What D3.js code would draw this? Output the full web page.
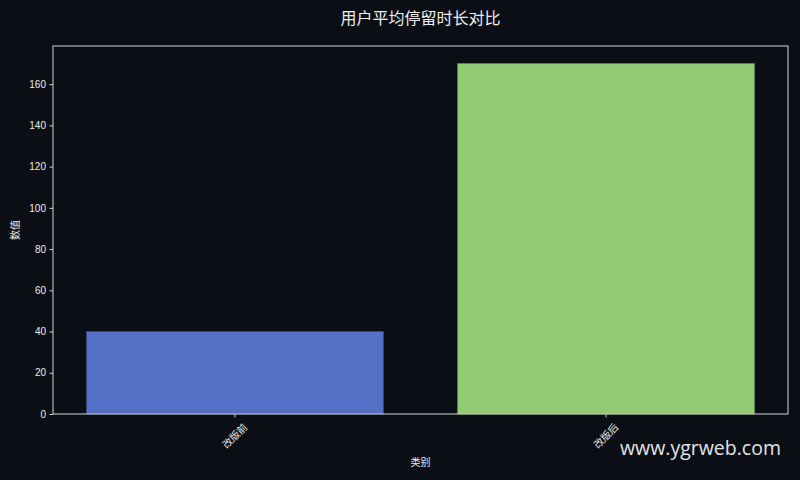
<!DOCTYPE html>
<html>
<head>
<meta charset="utf-8">
<script src="https://cdn.jsdelivr.net/npm/d3@7"></script>
<style>
  body { margin: 0; background: #0b0e14; }
  svg { display: block; }
  .tick text { font-family: "Liberation Sans", "Noto Sans CJK SC", sans-serif; font-size: 10px; fill: #ececec; }
  .labelText { font-family: "Liberation Sans", "Noto Sans CJK SC", sans-serif; font-size: 10px; fill: #ececec; }
</style>
</head>
<body>
<svg id="chart" width="800" height="480"></svg>
<script>
const categories = ['改版前', '改版后'];
const values = [40, 170];
const barColors = ['#5470c6', '#91cc75'];
const yTicks = [0, 20, 40, 60, 80, 100, 120, 140, 160];

const width = 800;
const height = 480;
const margin = { top: 46, right: 12, bottom: 66, left: 53 };
const innerW = width - margin.left - margin.right;
const innerH = height - margin.top - margin.bottom;

const svg = d3.select('#chart');

svg.append('rect')
  .attr('width', width)
  .attr('height', height)
  .attr('fill', '#0b0e14');

const x = d3.scaleBand()
  .domain(categories)
  .range([0, innerW])
  .paddingInner(0.2)
  .paddingOuter(0.09);

const y = d3.scaleLinear()
  .domain([0, d3.max(values) * 1.05])
  .range([innerH, 0]);

const g = svg.append('g')
  .attr('transform', `translate(${margin.left}, ${margin.top})`);

// bars
g.selectAll('rect.bar')
  .data(values)
  .enter()
  .append('rect')
  .attr('class', 'bar')
  .attr('x', (d, i) => x(categories[i]))
  .attr('y', d => y(d))
  .attr('width', x.bandwidth())
  .attr('height', d => innerH - y(d))
  .attr('fill', (d, i) => barColors[i])
  .attr('stroke', (d, i) => d3.color(barColors[i]).darker(1.2))
  .attr('stroke-width', 0.8);

// y axis
const yAxis = g.append('g')
  .call(d3.axisLeft(y).tickValues(yTicks).tickSize(3.5).tickPadding(3.5));
yAxis.select('.domain').remove();
yAxis.selectAll('.tick line').attr('stroke', '#d4d4d4');

// x axis
const xAxis = g.append('g')
  .attr('transform', `translate(0, ${innerH})`)
  .call(d3.axisBottom(x).tickSize(3.5).tickFormat(''));
xAxis.select('.domain').remove();
xAxis.selectAll('.tick line').attr('stroke', '#d4d4d4');

// rotated category labels
g.selectAll('text.xlabel')
  .data(categories)
  .enter()
  .append('text')
  .attr('class', 'labelText')
  .attr('text-anchor', 'middle')
  .attr('dominant-baseline', 'central')
  .attr('transform', d => `translate(${x(d) + x.bandwidth() / 2}, ${innerH + 22}) rotate(-45)`)
  .text(d => d);

// frame
g.append('rect')
  .attr('width', innerW)
  .attr('height', innerH)
  .attr('fill', 'none')
  .attr('stroke', '#d4d4d4')
  .attr('stroke-width', 1);

// title
svg.append('text')
  .text('用户平均停留时长对比')
  .attr('x', margin.left + innerW / 2)
  .attr('y', 24)
  .attr('text-anchor', 'middle')
  .attr('font-family', '"Noto Sans CJK SC", sans-serif')
  .attr('font-size', 16)
  .attr('fill', '#eeeeee');

// axis labels
svg.append('text')
  .text('类别')
  .attr('class', 'labelText')
  .attr('x', margin.left + innerW / 2)
  .attr('y', 466)
  .attr('text-anchor', 'middle');

svg.append('text')
  .text('数值')
  .attr('class', 'labelText')
  .attr('text-anchor', 'middle')
  .attr('transform', `translate(19, ${margin.top + innerH / 2}) rotate(-90)`);

// watermark
svg.append('text')
  .text('www.ygrweb.com')
  .attr('x', 781)
  .attr('y', 455)
  .attr('text-anchor', 'end')
  .attr('font-family', '"Open Sans", "Noto Sans", sans-serif')
  .attr('font-size', 19.5)
  .attr('fill', '#e4e4e4');
</script>
</body>
</html>
